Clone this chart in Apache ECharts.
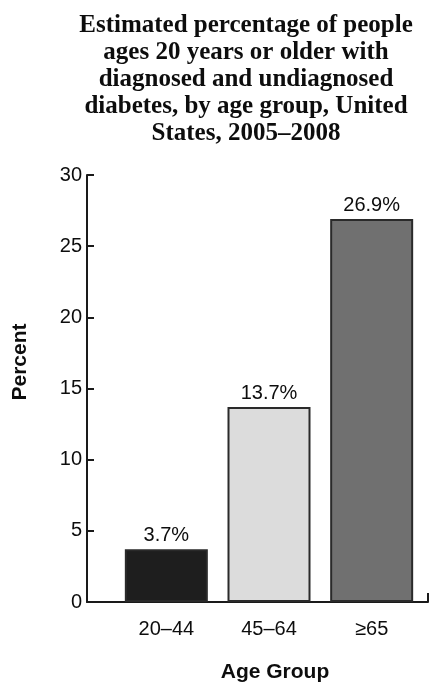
<!DOCTYPE html>
<html>
<head>
<meta charset="utf-8">
<script src="https://cdn.jsdelivr.net/npm/echarts@6/dist/echarts.min.js"></script>
<style>
  html, body { margin: 0; padding: 0; background: #fff; }
  #chart { width: 431px; height: 683px; }
</style>
</head>
<body>
<div id="chart"></div>
<script>
// Diabetes prevalence by age group (percent)
const titleText = 'Estimated percentage of people\nages 20 years or older with\ndiagnosed and undiagnosed\ndiabetes, by age group, United\nStates, 2005\u20132008';
const ageGroups = ['20\u201344', '45\u201364', '\u226565'];
const percentValues = [3.7, 13.7, 26.9];
const barColors = ['#1e1e1e', '#dcdcdc', '#707070'];
const yTicks = [0, 5, 10, 15, 20, 25, 30];

const sans = 'Liberation Sans';
const ink = '#0d0d0d';

const chart = echarts.init(document.getElementById('chart'), null, { renderer: 'canvas' });

chart.setOption({
  backgroundColor: '#fff',
  animation: false,
  title: {
    text: titleText,
    left: 241,
    top: 7,
    textAlign: 'center',
    textStyle: {
      fontFamily: 'Liberation Serif',
      fontWeight: 'bold',
      fontSize: 25,
      lineHeight: 27,
      color: ink
    }
  },
  grid: [
    // bars
    { left: 115, right: 8, top: 175, bottom: 81, containLabel: false, outerBoundsMode: 'none' },
    // frame: value axis and baseline
    { left: 87, right: 3, top: 175, bottom: 81, containLabel: false, outerBoundsMode: 'none' }
  ],
  xAxis: [
    {
      type: 'category',
      gridIndex: 0,
      data: ageGroups,
      axisLine: { show: false },
      axisTick: { show: false },
      axisLabel: { margin: 17, fontFamily: sans, fontSize: 20, color: ink },
      name: 'Age Group',
      nameLocation: 'middle',
      nameGap: 60,
      nameTextStyle: { fontFamily: sans, fontWeight: 'bold', fontSize: 21, color: ink, padding: [0, 0, 0, 12] }
    },
    {
      type: 'value',
      gridIndex: 1,
      min: 0,
      max: 1,
      interval: 1,
      axisLine: { show: true, lineStyle: { color: '#1a1a1a', width: 2 } },
      axisTick: { show: true, inside: true, length: 9, lineStyle: { color: '#1a1a1a', width: 2 } },
      axisLabel: { show: false },
      splitLine: { show: false }
    }
  ],
  yAxis: [
    {
      type: 'value',
      gridIndex: 0,
      min: 0,
      max: 30,
      interval: 5,
      show: false
    },
    {
      type: 'value',
      gridIndex: 1,
      min: yTicks[0],
      max: yTicks[yTicks.length - 1],
      interval: 5,
      axisLine: { show: true, lineStyle: { color: '#1a1a1a', width: 2 } },
      axisTick: { show: true, inside: true, length: 7, lineStyle: { color: '#1a1a1a', width: 2 } },
      axisLabel: { margin: 5, fontFamily: sans, fontSize: 20, color: ink },
      splitLine: { show: false }
    }
  ],
  graphic: [
    {
      type: 'text',
      x: 20,
      y: 362,
      rotation: Math.PI / 2,
      style: {
        text: 'Percent',
        fontFamily: sans,
        fontWeight: 'bold',
        fontSize: 21,
        fill: ink,
        textAlign: 'center',
        textVerticalAlign: 'middle'
      }
    }
  ],
  series: [
    {
      type: 'bar',
      xAxisIndex: 0,
      yAxisIndex: 0,
      barWidth: 83,
      data: percentValues.map((v, i) => ({
        value: v,
        itemStyle: { color: barColors[i], borderColor: '#2a2a2a', borderWidth: 2 }
      })),
      label: {
        show: true,
        position: 'top',
        distance: 4,
        formatter: p => p.value + '%',
        fontFamily: sans,
        fontSize: 20,
        color: ink
      }
    }
  ]
});
</script>
</body>
</html>
